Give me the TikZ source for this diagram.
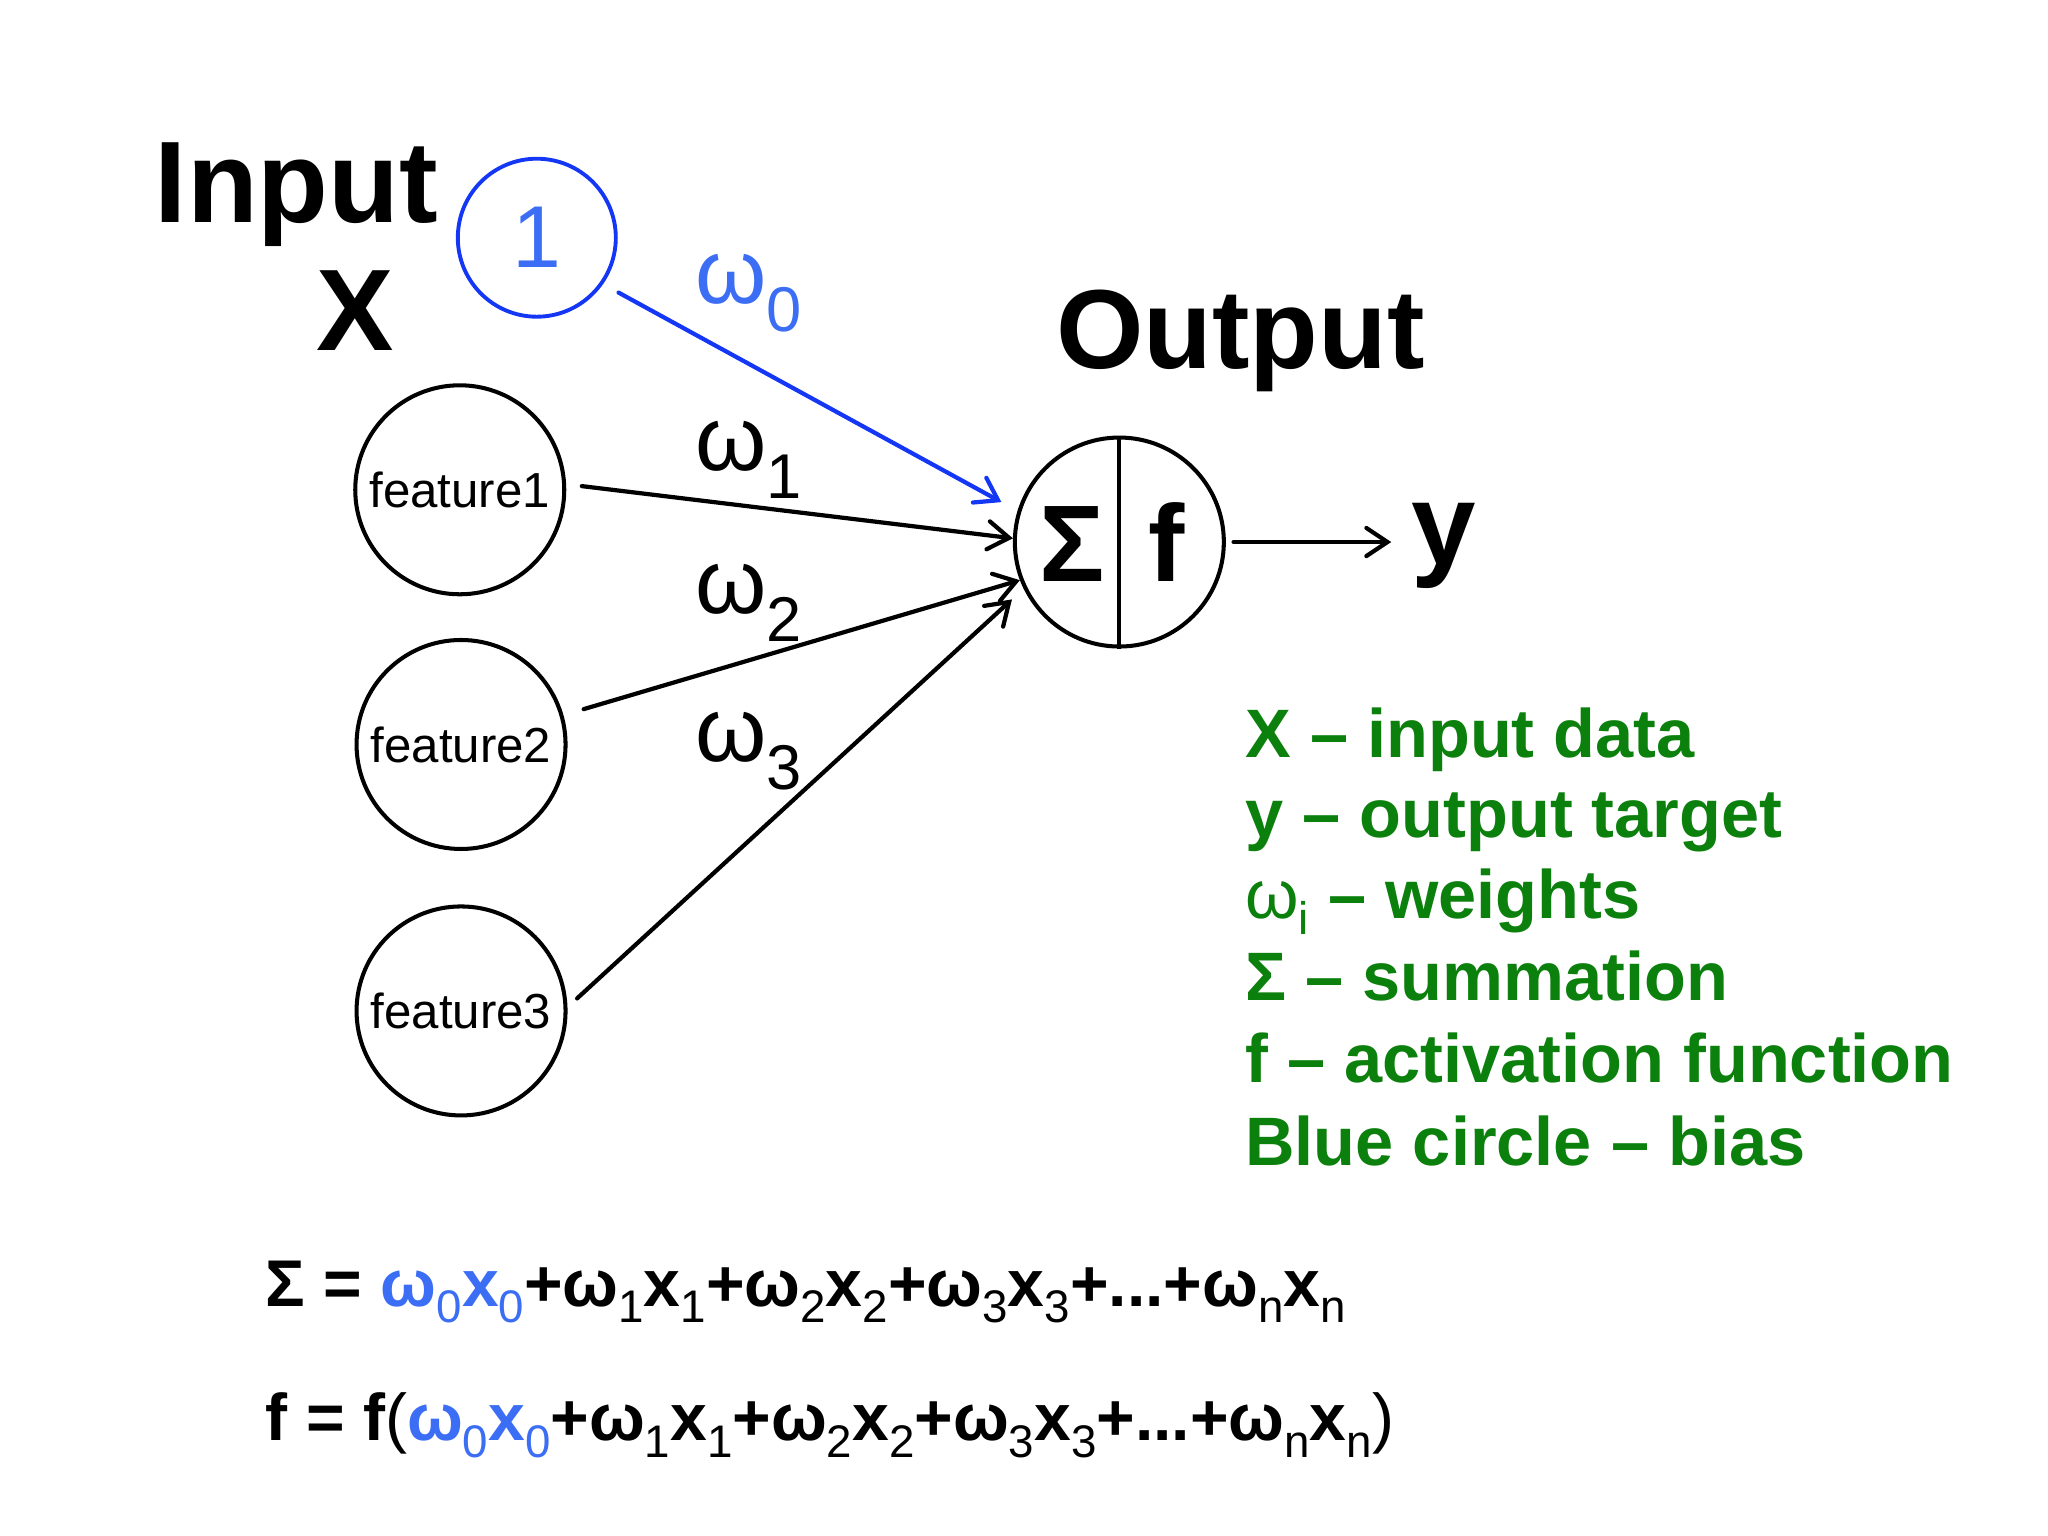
\documentclass[tikz,border=0pt]{standalone}
\usepackage{fontspec}
\setmainfont{Liberation Sans}
\usetikzlibrary{arrows.meta,calc}
\definecolor{circblue}{RGB}{20,55,245}
\definecolor{txtblue}{RGB}{60,110,245}
\definecolor{lgreen}{RGB}{12,128,12}
\newcommand{\wsub}[1]{\raisebox{-8pt}{\fontsize{18}{18}\selectfont #1}}
\newcommand{\es}[1]{\raisebox{-4.8pt}{\fontsize{13}{13}\mdseries\selectfont #1}}
\begin{document}
\begin{tikzpicture}[x=0.0130612cm,y=-0.0130612cm,
  neuron/.style={circle, draw, line width=1.15pt, minimum size=2.09cm, inner sep=0pt},
  feat/.style={neuron, font=\fontsize{14}{14}\selectfont},
  bias/.style={circle, draw=circblue, line width=1.1pt, minimum size=1.58cm, inner sep=0pt, text=txtblue, font=\fontsize{25}{25}\selectfont},
  big/.style={inner sep=0pt, font=\fontsize{33}{33}\selectfont\bfseries},
  inbig/.style={inner sep=0pt, anchor=base, font=\fontsize{31}{31}\selectfont\bfseries},
  wlabel/.style={anchor=base west, inner sep=0pt, font=\fontsize{26}{26}\selectfont},
  legend/.style={anchor=base west, inner sep=0pt, text=lgreen, font=\fontsize{19.5}{19.5}\selectfont\bfseries},
  eq/.style={anchor=base west, inner sep=0pt, font=\fontsize{18.8}{18.8}\selectfont\bfseries},
  conn/.style={line width=1.2pt, line cap=round, -{Straight Barb[length=6pt,width=8pt,line cap=round]}}
]
\useasboundingbox (0,0) rectangle (1568,1176);

% nodes
\node[bias] (b) at (411,182) {1};
\node[feat] (f1) at (352,375) {feature1};
\node[feat] (f2) at (353,570) {feature2};
\node[feat] (f3) at (353,774) {feature3};
\node[neuron] (o) at (857,415) {};
\draw[line width=1.15pt] (o.north) -- (o.south);
\node[inbig] (sig) at (821,445) {Σ};
\node[inbig] (fn) at (893,445) {f};

\node[big, anchor=base west] (in) at (118,170) {Input};
\node[big, anchor=base] (X) at (272,268) {X};
\node[big, anchor=base west, font=\fontsize{32}{32}\selectfont\bfseries] (out) at (808,282) {Output};
\node[big, anchor=base west] (y) at (1080,432) {y};

% weights
\node[wlabel, text=txtblue] (w0) at (532,232) {ω\wsub{0}};
\node[wlabel] (w1) at (532,360) {ω\wsub{1}};
\node[wlabel] (w2) at (532,470) {ω\wsub{2}};
\node[wlabel] (w3) at (532,583) {ω\wsub{3}};

% connectors
\draw[conn, circblue, line width=1.2pt, shorten <=5pt, shorten >=5.2pt] (b.-35) -- (o.163);
\draw[conn, shorten <=4.5pt] (f1.3) -- (o.178);
\draw[conn, shorten <=6pt] (f2.16) -- (o.-159);
\draw[conn, shorten <=3.7pt, shorten >=4.5pt] (f3.2) -- (o.-154);
\draw[conn, shorten <=2.2pt, shorten >=5.5pt] (o.east) -- (y.west |- o.east);

% legend
\node[legend] (l1) at (953,580) {X – input data};
\node[legend] (l2) at (953,641) {y – output target};
\node[legend] (l3) at (953,703) {{\mdseries ω\raisebox{-4.5pt}{\fontsize{13}{13}\selectfont i}} – weights};
\node[legend] (l4) at (953,766) {Σ – summation};
\node[legend] (l5) at (953,829) {f – activation function};
\node[legend] (l6) at (953,892) {Blue circle – bias};

% equations
\node[eq] (e1) at (203,1000) {Σ = {\color{txtblue}ω\es{0}x\es{0}}+ω\es{1}x\es{1}+ω\es{2}x\es{2}+ω\es{3}x\es{3}+...+ω\es{n}x\es{n}};
\node[eq] (e2) at (203,1103) {f = f{\mdseries(}{\color{txtblue}ω\es{0}x\es{0}}+ω\es{1}x\es{1}+ω\es{2}x\es{2}+ω\es{3}x\es{3}+...+ω\es{n}x\es{n}{\mdseries)}};
\end{tikzpicture}
\end{document}
